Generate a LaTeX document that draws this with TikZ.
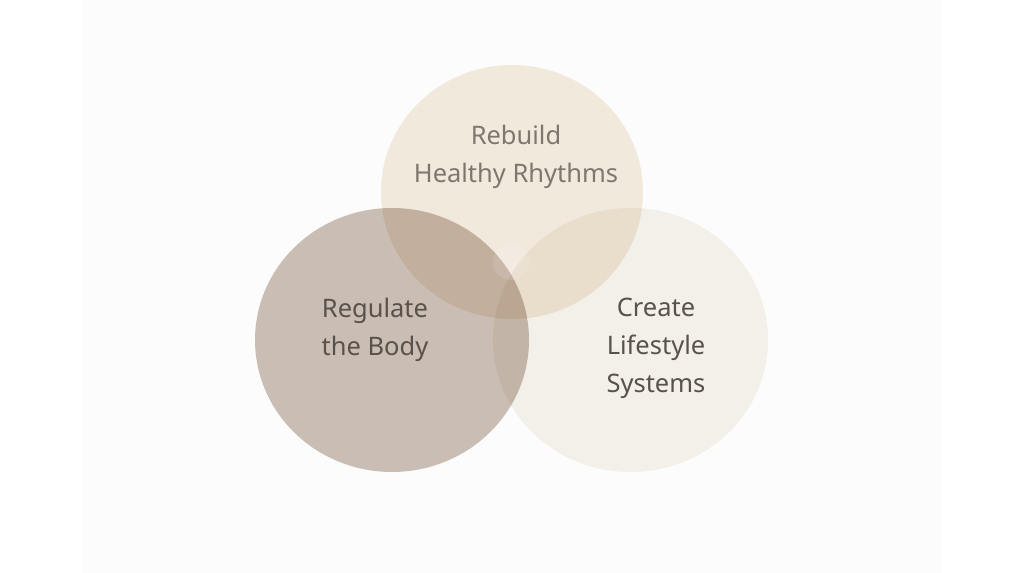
\documentclass[tikz,border=0pt]{standalone}
\usepackage{fontspec}
\setmainfont{Noto Sans}
\usepackage{tikz}
\usetikzlibrary{positioning}
\definecolor{rebuildcol}{HTML}{F5ECE0}
\definecolor{regulatecol}{HTML}{CDC1B7}
\definecolor{createcol}{HTML}{F6F2EC}
\definecolor{panelcol}{HTML}{FCFCFC}
\definecolor{darktext}{HTML}{59514B}
\definecolor{lighttext}{HTML}{7F766E}
\tikzset{every node/.append style={transform shape=false}}
\tikzset{venn/.style={blend mode=multiply}}
\tikzset{vennlabel/.style={align=center,font=\fontsize{14.5}{21.5}\selectfont}}

\begin{document}
\begin{tikzpicture}
  \useasboundingbox (0,0) rectangle (20.48,11.46);
  \fill[panelcol] (1.64,0) rectangle (18.84,11.46);

  \coordinate (c1) at (10.24,7.62);
  \coordinate (c2) at (7.84,4.66);
  \coordinate (c3) at (12.61,4.66);

  \fill[venn, regulatecol] (c2) ellipse [x radius=2.74, y radius=2.64];
  \fill[venn, createcol] (c3) ellipse [x radius=2.75, y radius=2.64];
  \fill[venn, rebuildcol] (c1) ellipse [x radius=2.62, y radius=2.54];
  \fill[white, opacity=.12] (10.22,6.22) circle (.36);

  \node[vennlabel, text=lighttext] (rebuild) at (10.32,8.33)
  {Rebuild\\Healthy Rhythms};
  \node[vennlabel, text=darktext] (regulate) at (7.50,4.86)
  {Regulate\\the Body};
  \node[vennlabel, text=darktext] (create) at (13.12,4.49)
  {Create\\Lifestyle\\Systems};
\end{tikzpicture}
\end{document}
